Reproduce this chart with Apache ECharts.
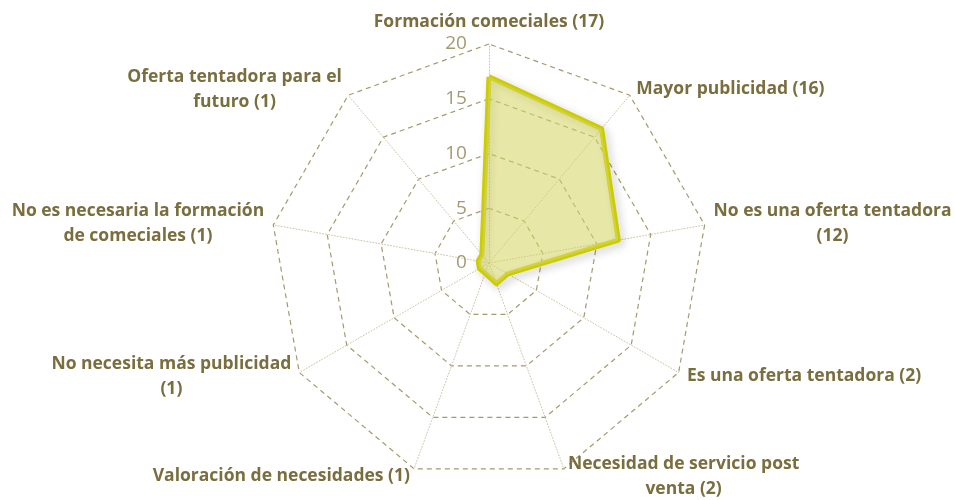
<!DOCTYPE html>
<html>
<head>
<meta charset="utf-8">
<script src="https://cdn.jsdelivr.net/npm/echarts@6/dist/echarts.min.js"></script>
<style>
  html, body { margin: 0; padding: 0; background: #fff; }
  #chart { width: 955px; height: 500px; }
</style>
</head>
<body>
<div id="chart"></div>
<script>
// categorías (en el sentido de las agujas del reloj desde arriba)
var categories = [
    'Formación comeciales (17)',
    'Mayor publicidad (16)',
    'No es una oferta tentadora\n(12)',
    'Es una oferta tentadora (2)',
    'Necesidad de servicio post\nventa (2)',
    'Valoración de necesidades (1)',
    'No necesita más publicidad\n(1)',
    'No es necesaria la formación\nde comeciales (1)',
    'Oferta tentadora para el\nfuturo (1)'
];
var values = [17, 16, 12, 2, 2, 1, 1, 1, 1];
var axisMax = 20;

var textColor = '#7a6d3e';
var nameFont = 'bold 17.5px "Open Sans"';

// echarts dibuja el radar en sentido antihorario: invertimos el orden tras el primero
var order = [0];
for (var k = categories.length - 1; k > 0; k--) order.push(k);

// ancho de cada nombre, para centrar las líneas dentro del bloque
var ctx = document.createElement('canvas').getContext('2d');
ctx.font = nameFont;
var rich = {};
categories.forEach(function (name, i) {
    var w = 0;
    name.split('\n').forEach(function (line) {
        w = Math.max(w, ctx.measureText(line).width);
    });
    rich['n' + i] = { width: Math.ceil(w) + 2, align: 'center' };
});

var indicators = order.map(function (i, pos) {
    var ind = { name: categories[i], min: 0, max: axisMax };
    // solo el eje superior lleva las etiquetas 0..20
    if (pos === 0) ind.axisLabel = { show: true };
    return ind;
});

var myChart = echarts.init(document.getElementById('chart'));
var option = {
    animation: false,
    radar: {
        center: ['51.2%', '52.6%'],
        radius: 219,
        startAngle: 90,
        splitNumber: 4,
        shape: 'polygon',
        indicator: indicators,
        axisName: {
            color: textColor,
            fontFamily: 'Open Sans',
            fontWeight: 'bold',
            fontSize: 17.5,
            lineHeight: 25,
            rich: rich,
            formatter: function (name) {
                var i = categories.indexOf(name);
                return name.split('\n').map(function (line) {
                    return '{n' + i + '|' + line + '}';
                }).join('\n');
            }
        },
        nameGap: 8,
        axisLine: {
            lineStyle: { color: '#cbc5a6', type: [1, 2], width: 1 }
        },
        splitLine: {
            lineStyle: { color: '#a49a6e', type: [5, 4], width: 1.2 }
        },
        splitArea: { show: false },
        axisTick: { show: false },
        axisLabel: {
            show: false,
            color: '#a39a72',
            fontSize: 19,
            fontFamily: 'Open Sans',
            align: 'right',
            padding: [0, 14, 0, 0]
        }
    },
    series: [
        {
            type: 'radar',
            symbol: 'none',
            lineStyle: {
                color: '#cccc00',
                width: 5,
                join: 'round',
                shadowColor: 'rgba(0,0,0,0.22)',
                shadowBlur: 8,
                shadowOffsetX: 3,
                shadowOffsetY: 3
            },
            areaStyle: {
                color: 'rgba(212,212,100,0.8)'
            },
            data: [{ value: order.map(function (i) { return values[i]; }) }]
        }
    ]
};
myChart.setOption(option);
</script>
</body>
</html>
